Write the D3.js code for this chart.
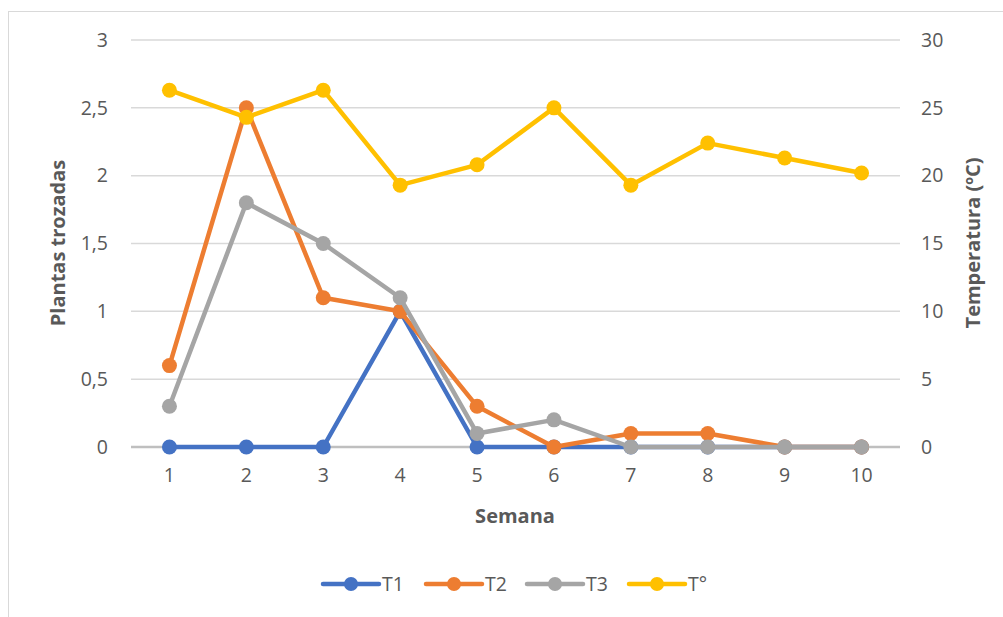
<!DOCTYPE html>
<html>
<head>
<meta charset="utf-8">
<script src="https://cdn.jsdelivr.net/npm/d3@7"></script>
<style>
  html, body { margin: 0; padding: 0; background: #fff; }
  svg { display: block; }
  text { font-family: "Open Sans", "Noto Sans", sans-serif; fill: #595959; }
</style>
</head>
<body>
<svg id="chart" width="1003" height="617"></svg>
<script>
// Semanas de muestreo
const semanas = [1, 2, 3, 4, 5, 6, 7, 8, 9, 10];

// Plantas trozadas por tratamiento
const t1 = [0, 0, 0, 1, 0, 0, 0, 0, 0, 0];
const t2 = [0.6, 2.5, 1.1, 1.0, 0.3, 0, 0.1, 0.1, 0, 0];
const t3 = [0.3, 1.8, 1.5, 1.1, 0.1, 0.2, 0, 0, 0, 0];

// Temperatura media semanal (ºC)
const temperatura = [26.3, 24.3, 26.3, 19.3, 20.8, 25.0, 19.3, 22.4, 21.3, 20.2];

const leftTicks = [0, 0.5, 1, 1.5, 2, 2.5, 3];
const rightTicks = [0, 5, 10, 15, 20, 25, 30];

const series = [
  { name: "T1", values: t1, color: "#4472C4", axis: "left" },
  { name: "T2", values: t2, color: "#ED7D31", axis: "left" },
  { name: "T3", values: t3, color: "#A5A5A5", axis: "left" },
  { name: "T°", values: temperatura, color: "#FFC000", axis: "right" }
];

const FONT = "'Open Sans', 'Noto Sans', sans-serif";
const TICK_SIZE = 19.5;
const TITLE_SIZE = 20;
const svg = d3.select("#chart");

// Chart frame
svg.append("rect")
  .attr("x", 8.5).attr("y", 11.5)
  .attr("width", 1100).attr("height", 700)
  .attr("fill", "none").attr("stroke", "#d9d9d9").attr("stroke-width", 1);

const plot = { left: 131, right: 900, top: 40, bottom: 447 };

const x = d3.scaleBand().domain(semanas).range([plot.left, plot.right]);
const yL = d3.scaleLinear().domain([0, 3]).range([plot.bottom, plot.top]);
const yR = d3.scaleLinear().domain([0, 30]).range([plot.bottom, plot.top]);
const fmt = d3.formatLocale({ decimal: ",", thousands: ".", grouping: [3], currency: ["", ""] }).format("~g");

// Gridlines
svg.append("g")
  .selectAll("line")
  .data(leftTicks.filter(d => d !== 0))
  .join("line")
  .attr("x1", plot.left).attr("x2", plot.right)
  .attr("y1", d => yL(d)).attr("y2", d => yL(d))
  .attr("stroke", "#d9d9d9").attr("stroke-width", 1.5);

function styleTicks(g) {
  g.select(".domain").remove();
  g.selectAll("text").attr("font-size", TICK_SIZE).style("fill", "#595959").style("font-family", FONT);
}

// Left axis labels
svg.append("g")
  .attr("transform", `translate(${plot.left - 23},0)`)
  .call(d3.axisLeft(yL).tickValues(leftTicks).tickFormat(fmt).tickSize(0).tickPadding(0))
  .call(styleTicks);

// Right axis labels
svg.append("g")
  .attr("transform", `translate(${plot.right + 21},0)`)
  .call(d3.axisRight(yR).tickValues(rightTicks).tickSize(0).tickPadding(0))
  .call(styleTicks);

// Category axis
svg.append("line")
  .attr("x1", plot.left).attr("x2", plot.right)
  .attr("y1", plot.bottom).attr("y2", plot.bottom)
  .attr("stroke", "#bfbfbf").attr("stroke-width", 2.5);

svg.append("g")
  .attr("transform", `translate(0,${plot.bottom + 20})`)
  .call(d3.axisBottom(x).tickSize(0).tickPadding(0))
  .call(styleTicks)
  .selectAll("text").attr("dy", "0.75em");

// Axis titles
svg.append("text")
  .attr("transform", `translate(65,243) rotate(-90)`)
  .attr("text-anchor", "middle")
  .attr("font-size", TITLE_SIZE).attr("font-weight", "bold")
  .text("Plantas trozadas");

svg.append("text")
  .attr("transform", `translate(980,243) rotate(-90)`)
  .attr("text-anchor", "middle")
  .attr("font-size", TITLE_SIZE).attr("font-weight", "bold")
  .text("Temperatura (ºC)");

svg.append("text")
  .attr("x", 515).attr("y", 523)
  .attr("text-anchor", "middle")
  .attr("font-size", TITLE_SIZE).attr("font-weight", "bold")
  .text("Semana");

// Series lines and markers
const cx = d => x(d) + x.bandwidth() / 2;
series.forEach(s => {
  const yScale = s.axis === "left" ? yL : yR;
  const line = d3.line()
    .x((d, i) => cx(semanas[i]))
    .y(d => yScale(d));
  const g = svg.append("g");
  g.append("path")
    .datum(s.values)
    .attr("d", line)
    .attr("fill", "none")
    .attr("stroke", s.color)
    .attr("stroke-width", 4.5)
    .attr("stroke-linejoin", "round");
  g.selectAll("circle")
    .data(s.values)
    .join("circle")
    .attr("cx", (d, i) => cx(semanas[i]))
    .attr("cy", d => yScale(d))
    .attr("r", 7.5)
    .attr("fill", s.color);
});

// Legend
const legendX = [323, 426, 527, 629];
const legend = svg.append("g");
series.forEach((s, i) => {
  const lx = legendX[i];
  const ly = 584;
  legend.append("line")
    .attr("x1", lx).attr("x2", lx + 56)
    .attr("y1", ly).attr("y2", ly)
    .attr("stroke", s.color).attr("stroke-width", 4.5).attr("stroke-linecap", "round");
  legend.append("circle")
    .attr("cx", lx + 28).attr("cy", ly).attr("r", 7)
    .attr("fill", s.color);
  legend.append("text")
    .attr("x", lx + 59).attr("y", ly).attr("dy", "0.35em")
    .attr("font-size", TICK_SIZE)
    .text(s.name);
});
</script>
</body>
</html>
